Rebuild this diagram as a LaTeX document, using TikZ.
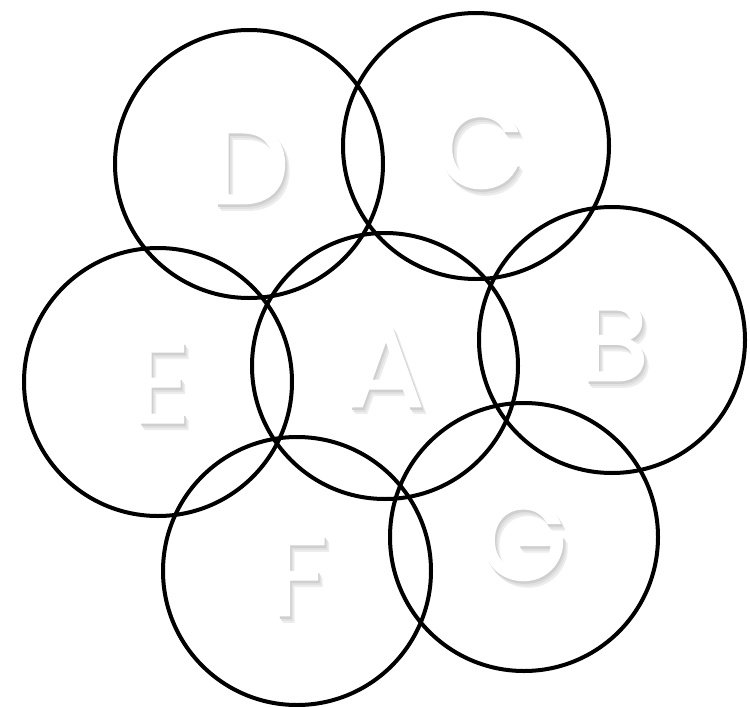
\documentclass[tikz,border=0pt]{standalone}
\usepackage{fontspec}
\newfontfamily\lettfont{Poppins}[FakeBold=1.3]
\newcommand\shadlayer[4]{\makebox[0pt][l]{\hspace{#1pt}\raisebox{#2pt}[0pt][0pt]{\textcolor{black!#3}{#4}}}}
\newcommand\shadtext[1]{%
  \shadlayer{4.5}{-6.5}{7}{#1}%
  \shadlayer{3}{-4.5}{12}{#1}%
  \shadlayer{1.5}{-2.5}{19}{#1}%
  \textcolor{white}{#1}}
\begin{document}
\begin{tikzpicture}[x=1pt,y=-1pt,
  ring/.style={draw=black,line width=4pt,circle,minimum size=#1,inner sep=0pt},
  ring/.default=266pt,
  letttext/.style={inner sep=0pt,font=\lettfont\fontsize{114}{114}\selectfont}]
\useasboundingbox (0,0) rectangle (750,707);
\fill[white] (0,0) rectangle (750,707);
% circles
\node[ring] (cA) at (385,366) {};
\node[ring] (cB) at (612,340) {};
\node[ring] (cC) at (476,146) {};
\node[ring=268pt] (cD) at (249,164) {};
\node[ring=268pt] (cE) at (158,382) {};
\node[ring=268pt] (cF) at (297,571) {};
\node[ring=268pt] (cG) at (524,537) {};
% letters
\node[letttext] (lA) at (386,367) {\shadtext{A}};
\node[letttext] (lB) at (614,341) {\shadtext{B}};
\node[letttext] (lC) at (480,148) {\shadtext{C}};
\node[letttext] (lD) at (249,164) {\shadtext{D}};
\node[letttext] (lE) at (161,383) {\shadtext{E}};
\node[letttext] (lF) at (299,576) {\shadtext{F}};
\node[letttext] (lG) at (523,540) {\shadtext{G}};
\end{tikzpicture}
\end{document}
